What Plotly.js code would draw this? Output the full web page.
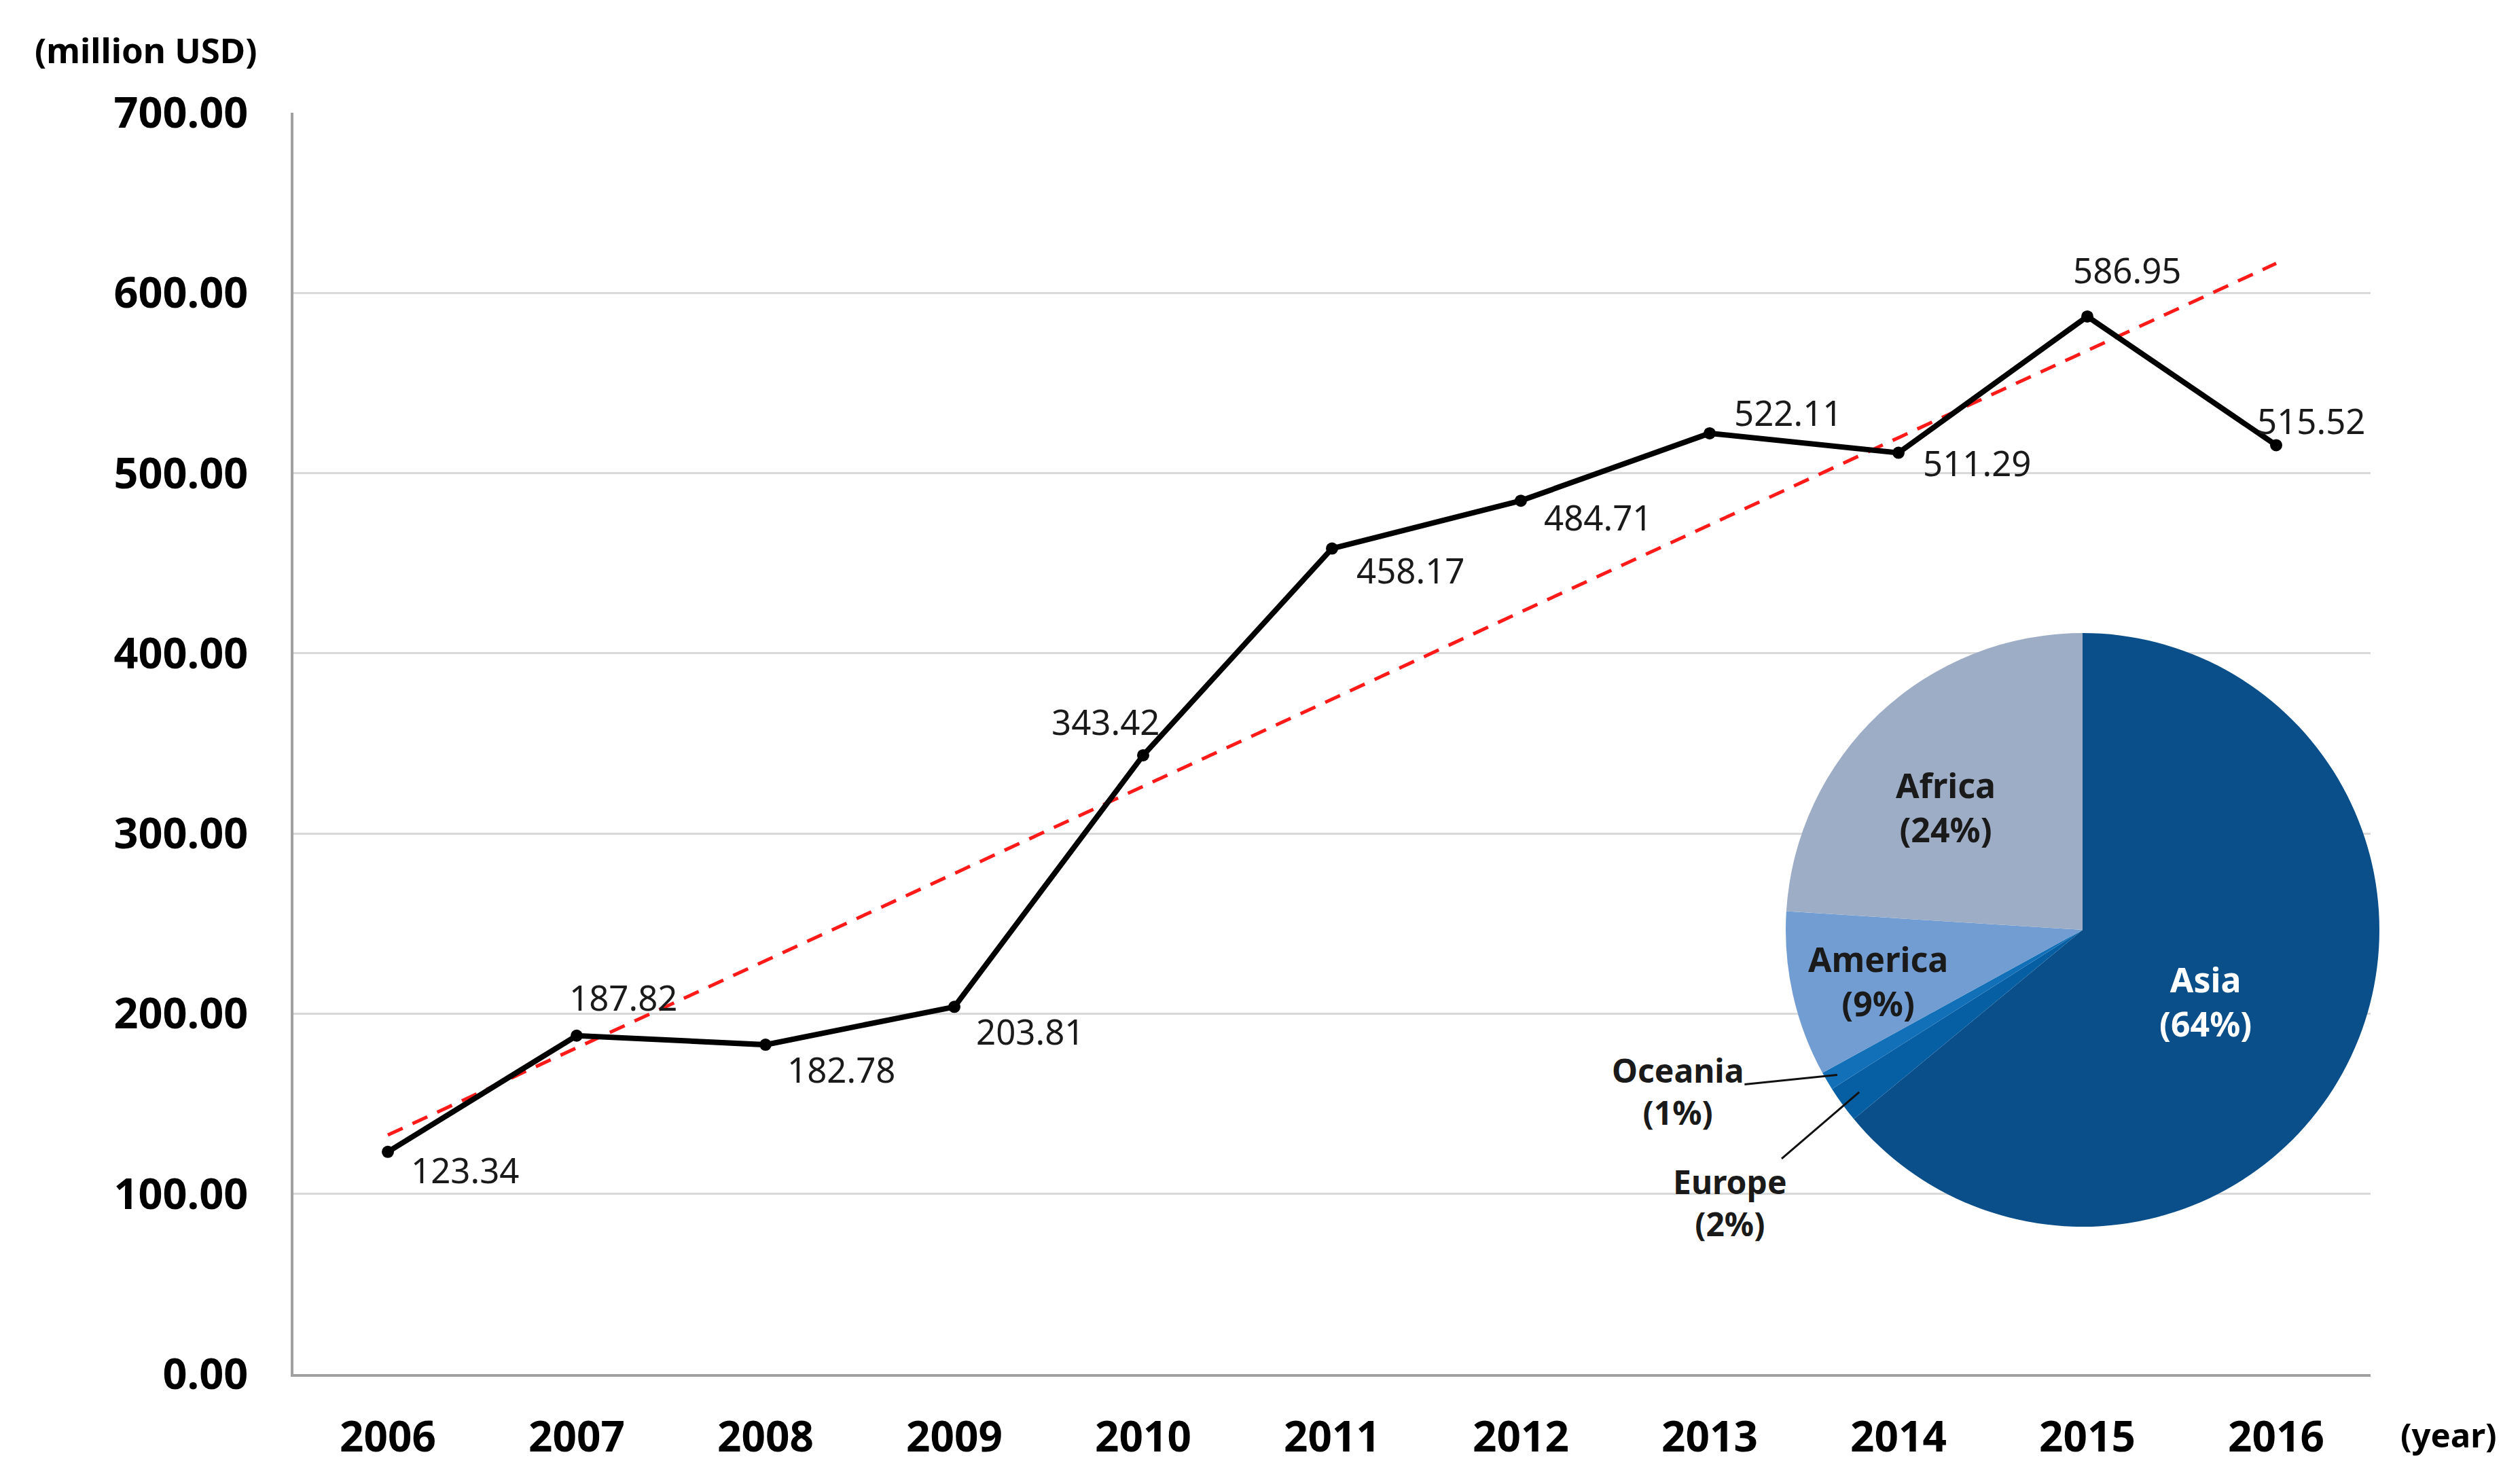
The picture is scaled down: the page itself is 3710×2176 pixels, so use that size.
<!DOCTYPE html>
<html>
<head>
<meta charset="utf-8">
<script src="https://cdn.plot.ly/plotly-3.0.1.min.js"></script>
<style>
  html, body { margin: 0; padding: 0; background: #fff; }
</style>
</head>
<body>
<div id="chart"></div>
<script>
// yearly totals (million USD)
const years = [2006, 2007, 2008, 2009, 2010, 2011, 2012, 2013, 2014, 2015, 2016];
const totals = [123.34, 187.82, 182.78, 203.81, 343.42, 458.17, 484.71, 522.11, 511.29, 586.95, 515.52];

// linear trend, end points
const trendYears = [2006, 2016];
const trendValues = [132.7, 616.4];

// regional share (%)
const regions = ["Asia", "Europe", "Oceania", "America", "Africa"];
const shares = [64, 2, 1, 9, 24];

const FONT = "Noto Sans";
const W = 3710, H = 2176;
const margin = { l: 432, r: 100, t: 166, b: 153 };
const plotW = W - margin.l - margin.r;
const plotH = H - margin.t - margin.b;
const axisW = 3058; // x axis length in px

// where each value label sits relative to its point (px, right / down)
const labelOffset = [
  [114, 26], [69, -57], [112, 36], [112, 36], [-55, -50], [116, 31],
  [114, 24], [116, -31], [116, 14], [59, -69], [52, -36],
];

const regionColors = ["#0a4f8a", "#075fa3", "#1270b8", "#729dd2", "#9dadc6"];

// pie placement (paper coords)
const pieR = 437;
const pieCenterPx = { x: 3066, y: 1369 };
const pieDom = {
  x: [(pieCenterPx.x - pieR - margin.l) / plotW, (pieCenterPx.x + pieR - margin.l) / plotW],
  y: [(H - margin.b - pieCenterPx.y - pieR) / plotH, (H - margin.b - pieCenterPx.y + pieR) / plotH],
};
const pieCx = (pieDom.x[0] + pieDom.x[1]) / 2;
const pieCy = (pieDom.y[0] + pieDom.y[1]) / 2;

function piePoint(angle, frac) {
  const a = angle * Math.PI / 180;
  return {
    x: pieCx + frac * pieR * Math.sin(a) / plotW,
    y: pieCy + frac * pieR * Math.cos(a) / plotH,
  };
}

// mid angle of each slice, clockwise from 12 o'clock
const total = shares.reduce((s, v) => s + v, 0);
let acc = 0;
const midAngles = shares.map((v) => {
  const mid = (acc + v / 2) / total * 360;
  acc += v;
  return mid;
});

// how labels sit on the pie
const pieLabelStyle = [
  { frac: 0.48, shift: 5, color: "#ffffff" },
  { frac: 0.93, outside: true, ax: -190, ay: 163 },
  { frac: 0.96, outside: true, ax: -235, ay: 24 },
  { frac: 0.71, shift: -1.5, color: "#1a1a1a" },
  { frac: 0.62, shift: -5, color: "#1a1a1a" },
];

const pieAnnotations = regions.map((name, i) => {
  const st = pieLabelStyle[i];
  const p = piePoint(midAngles[i] + (st.shift || 0), st.frac);
  const text = "<b>" + name + "<br>(" + shares[i] + "%)</b>";
  if (st.outside) {
    return {
      xref: "paper", yref: "paper", x: p.x, y: p.y, text: text,
      showarrow: true, arrowhead: 0, arrowwidth: 3, arrowcolor: "#111",
      ax: st.ax, ay: st.ay, standoff: 0,
      font: { family: FONT, size: 48, color: "#1a1a1a" },
    };
  }
  return {
    xref: "paper", yref: "paper", x: p.x, y: p.y, text: text,
    showarrow: false, xanchor: "center", yanchor: "middle",
    font: { family: FONT, size: 50, color: st.color },
  };
});

const valueAnnotations = years.map((yr, i) => ({
  xref: "x", yref: "y", x: yr, y: totals[i],
  text: totals[i].toFixed(2),
  showarrow: false, xanchor: "center", yanchor: "middle",
  xshift: labelOffset[i][0], yshift: -labelOffset[i][1],
  font: { family: FONT, size: 51, color: "#1a1a1a" },
}));

const data = [
  {
    type: "scatter",
    x: trendYears,
    y: trendValues,
    mode: "lines",
    line: { color: "#ff1a1a", width: 5, dash: "24px,16px" },
    hoverinfo: "skip",
    showlegend: false,
  },
  {
    type: "scatter",
    x: years,
    y: totals,
    mode: "lines+markers",
    line: { color: "#000", width: 8 },
    marker: { color: "#000", size: 18 },
    cliponaxis: false,
    showlegend: false,
  },
  {
    type: "pie",
    labels: regions,
    values: shares,
    sort: false,
    direction: "clockwise",
    rotation: 0,
    textinfo: "none",
    marker: { colors: regionColors, line: { width: 0 } },
    domain: pieDom,
    showlegend: false,
  },
];

const layout = {
  width: W,
  height: H,
  margin: margin,
  paper_bgcolor: "#fff",
  plot_bgcolor: "#fff",
  showlegend: false,
  xaxis: {
    type: "linear",
    domain: [0, axisW / plotW],
    range: [years[0] - 0.5, years[years.length - 1] + 0.5],
    tickvals: years,
    tickformat: "d",
    showgrid: false,
    zeroline: false,
    showline: true,
    linecolor: "#a0a0a0",
    linewidth: 4,
    ticks: "",
    ticklabelstandoff: 36,
    tickfont: { family: FONT, size: 62, color: "#000", weight: "bold" },
    fixedrange: true,
  },
  yaxis: {
    range: [0, 700],
    dtick: 100,
    tickformat: ".2f",
    showgrid: true,
    gridcolor: "#d9d9d9",
    gridwidth: 3,
    zeroline: false,
    showline: true,
    linecolor: "#a0a0a0",
    linewidth: 4,
    ticks: "",
    ticklabelstandoff: 50,
    tickfont: { family: FONT, size: 63, color: "#000", weight: "bold" },
    fixedrange: true,
  },
  annotations: [
    {
      xref: "paper", yref: "paper", x: (214 - margin.l) / plotW, y: (H - margin.b - 73) / plotH,
      text: "<b>(million USD)</b>", showarrow: false, xanchor: "center", yanchor: "middle",
      font: { family: FONT, size: 51, color: "#000" },
    },
    {
      xref: "paper", yref: "paper", x: (3605 - margin.l) / plotW, y: (H - margin.b - 2112) / plotH,
      text: "<b>(year)</b>", showarrow: false, xanchor: "center", yanchor: "middle",
      font: { family: FONT, size: 49, color: "#000" },
    },
  ].concat(valueAnnotations, pieAnnotations),
};

Plotly.newPlot("chart", data, layout, { displayModeBar: false, staticPlot: true });
</script>
</body>
</html>
